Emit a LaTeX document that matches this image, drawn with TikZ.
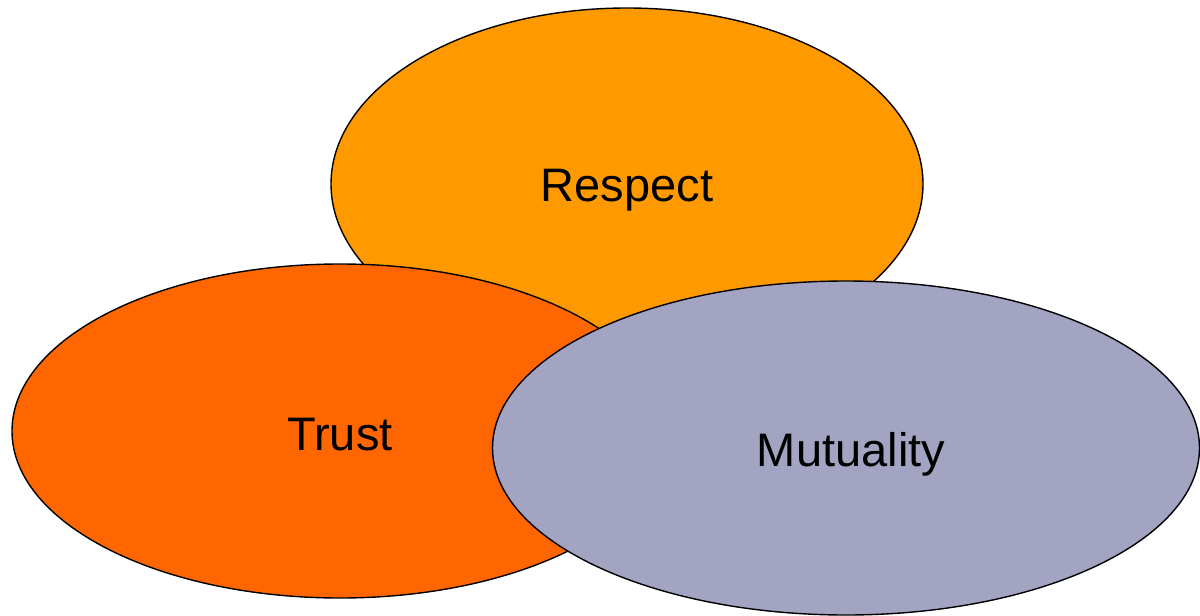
\documentclass[tikz,border=0pt]{standalone}
\usepackage{fontspec}
\setmainfont{Liberation Sans}
\usetikzlibrary{shapes.geometric}
\definecolor{respectc}{HTML}{FF9900}
\definecolor{trustc}{HTML}{FF6600}
\definecolor{mutualc}{HTML}{A3A3C2}
\begin{document}
\begin{tikzpicture}[x=1pt,y=-1pt,
  blob/.style={ellipse, draw=black, line width=1.4pt, inner sep=0pt},
  word/.style={inner sep=0pt, font=\fontsize{47}{56}\selectfont, text=black}]
\useasboundingbox (0,0) rectangle (1200,616);
\node[blob, fill=respectc, minimum width=592pt, minimum height=352pt] (respect) at (627,184) {};
\node[word] (respectt) at ([yshift=-6pt]respect.center) {Respect};
\node[blob, fill=trustc, minimum width=656pt, minimum height=334pt] (trust) at (340,431) {};
\node[word] (trustt) at ([yshift=-4pt]trust.center) {Trust};
\node[blob, fill=mutualc, minimum width=707pt, minimum height=334pt] (mutuality) at (846,448) {};
\node[word] (mutualityt) at ([xshift=5pt,yshift=-6pt]mutuality.center) {Mutuality};
\end{tikzpicture}
\end{document}
